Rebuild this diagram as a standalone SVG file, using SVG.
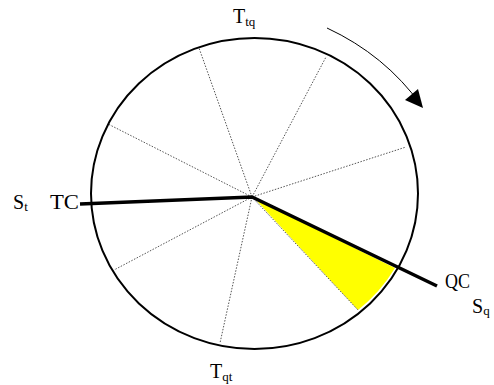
<svg xmlns="http://www.w3.org/2000/svg" width="494" height="385" viewBox="0 0 494 385">
<defs>
<style>
.lbl{font-family:"Liberation Serif","Times New Roman",serif;font-size:20px;fill:#000}
.sub{font-size:13px}
.dot{stroke:#555;stroke-width:1;stroke-dasharray:1.5 1.5;fill:none}
</style>
</defs>
<rect width="494" height="385" fill="#fff"/>
<g id="sector">
<path d="M255,199 L358,310 A163.5,155.5 0 0 0 395,268 Z" fill="#ffff00"/>
</g>
<g id="spokes">
<line class="dot" x1="252" y1="197" x2="199" y2="48"/>
<line class="dot" x1="252" y1="197" x2="108" y2="124"/>
<line class="dot" x1="252" y1="197" x2="326" y2="57"/>
<line class="dot" x1="252" y1="197" x2="406" y2="147"/>
<line class="dot" x1="252" y1="197" x2="114" y2="270"/>
<line class="dot" x1="252" y1="197" x2="220" y2="343"/>
<line class="dot" x1="252" y1="197" x2="358" y2="310"/>
</g>
<g id="circle">
<ellipse cx="254.5" cy="193.5" rx="163.5" ry="155.5" fill="none" stroke="#000" stroke-width="2"/>
</g>
<g id="connectors">
<polyline points="80,204 252,197 437,286" fill="none" stroke="#000" stroke-width="3.5" stroke-linejoin="miter"/>
<path d="M327,28 Q385,55 421,105" fill="none" stroke="#000" stroke-width="1"/>
<path d="M423,108 L405,100 L418,89 Z" fill="#000"/>
</g>
<g id="labels">
<text class="lbl" x="13" y="209">S<tspan class="sub" dy="2">t</tspan></text>
<text class="lbl" x="50" y="209" textLength="29" lengthAdjust="spacingAndGlyphs">TC</text>
<text class="lbl" x="445" y="288" textLength="25" lengthAdjust="spacingAndGlyphs">QC</text>
<text class="lbl" x="472" y="313">S<tspan class="sub" dy="2">q</tspan></text>
<text class="lbl" x="233" y="23">T<tspan class="sub" dy="3">tq</tspan></text>
<text class="lbl" x="210" y="378">T<tspan class="sub" dy="3">qt</tspan></text>
</g>
</svg>
